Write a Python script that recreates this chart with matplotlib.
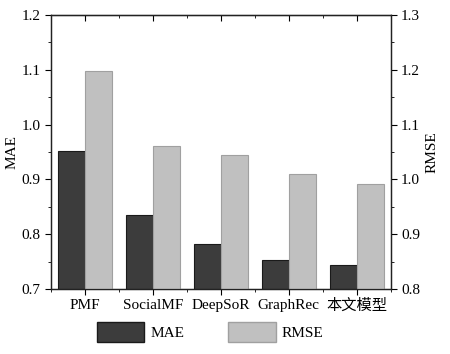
import matplotlib.pyplot as plt
import numpy as np
from matplotlib.ticker import MultipleLocator
from matplotlib.patches import Patch

plt.rcParams['font.family'] = ['Liberation Serif', 'Noto Sans CJK SC']

models = ['PMF', 'SocialMF', 'DeepSoR', 'GraphRec', '本文模型']
mae = [0.952, 0.836, 0.782, 0.754, 0.744]
rmse = [1.197, 1.060, 1.044, 1.010, 0.992]

fig = plt.figure(figsize=(4.5, 3.54), dpi=100)
ax = fig.add_axes([0.1127, 0.1828, 0.7556, 0.7757])
ax2 = ax.twinx()

x = np.arange(len(models))
w = 0.4
ax.bar(x - w / 2, mae, w, bottom=0, color='#3c3c3c', edgecolor='#1a1a1a', linewidth=0.8)
ax2.bar(x + w / 2, rmse, w, bottom=0, color='#c0c0c0', edgecolor='#a0a0a0', linewidth=0.8)

ax.set_xlim(-0.5, 4.5)
ax.set_ylim(0.7, 1.2)
ax2.set_ylim(0.8, 1.3)
ax.set_xticks(x)
ax.set_xticklabels(models, fontsize=11)
ax.xaxis.set_minor_locator(MultipleLocator(0.5))
ax.yaxis.set_major_locator(MultipleLocator(0.1))
ax.yaxis.set_minor_locator(MultipleLocator(0.05))
ax2.yaxis.set_major_locator(MultipleLocator(0.1))
ax2.yaxis.set_minor_locator(MultipleLocator(0.05))
ax.yaxis.set_major_formatter(plt.FormatStrFormatter('%.1f'))
ax2.yaxis.set_major_formatter(plt.FormatStrFormatter('%.1f'))

ax.tick_params(axis='x', which='major', direction='out', length=4, top=False, labelsize=11, pad=3)
ax.tick_params(axis='x', which='minor', direction='out', length=2, top=False)
ax.tick_params(axis='y', which='major', direction='out', length=4, labelsize=11)
ax.tick_params(axis='y', which='minor', direction='out', length=2)
ax2.tick_params(axis='y', which='major', direction='out', length=4, labelsize=11)
ax2.tick_params(axis='y', which='minor', direction='out', length=2)

# top axis ticks pointing inward
sec = ax.secondary_xaxis('top')
sec.set_xticks(x)
sec.set_xticklabels([])
sec.xaxis.set_minor_locator(MultipleLocator(0.5))
sec.tick_params(which='major', direction='in', length=4)
sec.tick_params(which='minor', direction='in', length=2)

for a in (ax, ax2):
    for s in a.spines.values():
        s.set_linewidth(0.9)
        s.set_color('#222222')

ax.set_ylabel('MAE', fontsize=11, labelpad=2)
ax2.set_ylabel('RMSE', fontsize=11, labelpad=4)

handles = [Patch(facecolor='#3c3c3c', edgecolor='#1a1a1a', label='MAE'),
           Patch(facecolor='#c0c0c0', edgecolor='#a0a0a0', label='RMSE')]
fig.legend(handles=handles, loc='lower center', bbox_to_anchor=(0.467, -0.005), ncol=2,
           frameon=False, fontsize=11, handlelength=3.1, handleheight=1.6,
           columnspacing=2.9, handletextpad=0.4)

fig.savefig('out.png', dpi=100)
